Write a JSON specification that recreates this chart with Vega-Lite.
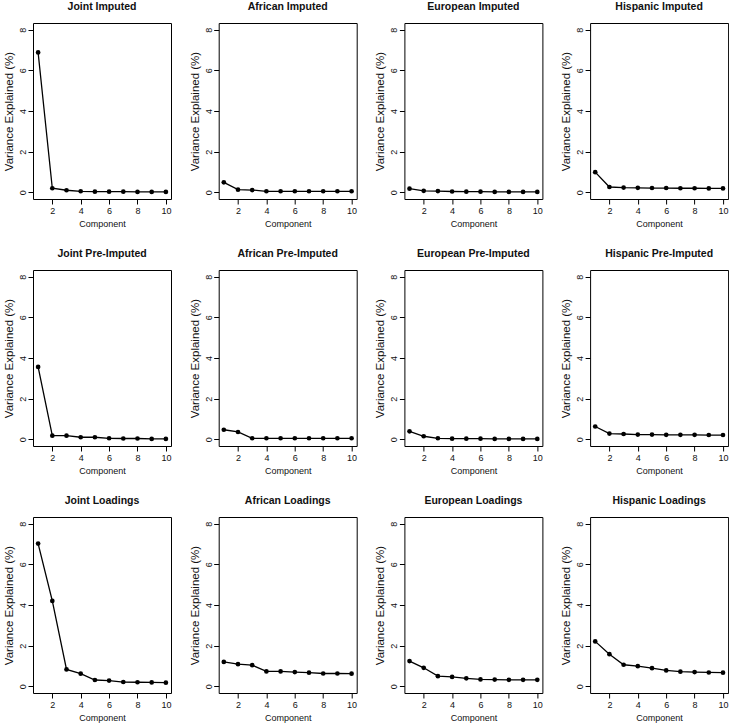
{
  "$schema": "https://vega.github.io/schema/vega-lite/v6.json",
  "padding": {"left": 3, "top": 1, "right": 0, "bottom": 0},
  "background": "white",
  "config": {
    "font": "Liberation Sans",
    "view": {"stroke": "black", "strokeWidth": 1},
    "axis": {"grid": false, "domain": false, "tickColor": "black", "tickSize": 5, "labelColor": "#111", "titleColor": "#111", "labelFontSize": 9, "titleFontSize": 9, "titleFontWeight": "normal"},
    "header": {"labelFontSize": 10.5, "labelFontWeight": "bold", "labelColor": "#111", "labelPadding": 11}
  },
  "data": {"values": [
    {"p":"Joint Imputed","c":1,"v":6.88},{"p":"Joint Imputed","c":2,"v":0.2},{"p":"Joint Imputed","c":3,"v":0.1},{"p":"Joint Imputed","c":4,"v":0.05},{"p":"Joint Imputed","c":5,"v":0.03},{"p":"Joint Imputed","c":6,"v":0.03},{"p":"Joint Imputed","c":7,"v":0.03},{"p":"Joint Imputed","c":8,"v":0.02},{"p":"Joint Imputed","c":9,"v":0.02},{"p":"Joint Imputed","c":10,"v":0.02},
    {"p":"African Imputed","c":1,"v":0.49},{"p":"African Imputed","c":2,"v":0.13},{"p":"African Imputed","c":3,"v":0.11},{"p":"African Imputed","c":4,"v":0.05},{"p":"African Imputed","c":5,"v":0.05},{"p":"African Imputed","c":6,"v":0.05},{"p":"African Imputed","c":7,"v":0.05},{"p":"African Imputed","c":8,"v":0.05},{"p":"African Imputed","c":9,"v":0.05},{"p":"African Imputed","c":10,"v":0.05},
    {"p":"European Imputed","c":1,"v":0.18},{"p":"European Imputed","c":2,"v":0.07},{"p":"European Imputed","c":3,"v":0.06},{"p":"European Imputed","c":4,"v":0.04},{"p":"European Imputed","c":5,"v":0.03},{"p":"European Imputed","c":6,"v":0.03},{"p":"European Imputed","c":7,"v":0.02},{"p":"European Imputed","c":8,"v":0.02},{"p":"European Imputed","c":9,"v":0.02},{"p":"European Imputed","c":10,"v":0.02},
    {"p":"Hispanic Imputed","c":1,"v":0.99},{"p":"Hispanic Imputed","c":2,"v":0.26},{"p":"Hispanic Imputed","c":3,"v":0.23},{"p":"Hispanic Imputed","c":4,"v":0.22},{"p":"Hispanic Imputed","c":5,"v":0.21},{"p":"Hispanic Imputed","c":6,"v":0.21},{"p":"Hispanic Imputed","c":7,"v":0.2},{"p":"Hispanic Imputed","c":8,"v":0.2},{"p":"Hispanic Imputed","c":9,"v":0.19},{"p":"Hispanic Imputed","c":10,"v":0.19},
    {"p":"Joint Pre-Imputed","c":1,"v":3.56},{"p":"Joint Pre-Imputed","c":2,"v":0.18},{"p":"Joint Pre-Imputed","c":3,"v":0.18},{"p":"Joint Pre-Imputed","c":4,"v":0.1},{"p":"Joint Pre-Imputed","c":5,"v":0.1},{"p":"Joint Pre-Imputed","c":6,"v":0.05},{"p":"Joint Pre-Imputed","c":7,"v":0.04},{"p":"Joint Pre-Imputed","c":8,"v":0.04},{"p":"Joint Pre-Imputed","c":9,"v":0.02},{"p":"Joint Pre-Imputed","c":10,"v":0.02},
    {"p":"African Pre-Imputed","c":1,"v":0.47},{"p":"African Pre-Imputed","c":2,"v":0.36},{"p":"African Pre-Imputed","c":3,"v":0.05},{"p":"African Pre-Imputed","c":4,"v":0.05},{"p":"African Pre-Imputed","c":5,"v":0.05},{"p":"African Pre-Imputed","c":6,"v":0.05},{"p":"African Pre-Imputed","c":7,"v":0.05},{"p":"African Pre-Imputed","c":8,"v":0.05},{"p":"African Pre-Imputed","c":9,"v":0.05},{"p":"African Pre-Imputed","c":10,"v":0.05},
    {"p":"European Pre-Imputed","c":1,"v":0.39},{"p":"European Pre-Imputed","c":2,"v":0.15},{"p":"European Pre-Imputed","c":3,"v":0.05},{"p":"European Pre-Imputed","c":4,"v":0.03},{"p":"European Pre-Imputed","c":5,"v":0.03},{"p":"European Pre-Imputed","c":6,"v":0.03},{"p":"European Pre-Imputed","c":7,"v":0.02},{"p":"European Pre-Imputed","c":8,"v":0.02},{"p":"European Pre-Imputed","c":9,"v":0.02},{"p":"European Pre-Imputed","c":10,"v":0.02},
    {"p":"Hispanic Pre-Imputed","c":1,"v":0.63},{"p":"Hispanic Pre-Imputed","c":2,"v":0.28},{"p":"Hispanic Pre-Imputed","c":3,"v":0.26},{"p":"Hispanic Pre-Imputed","c":4,"v":0.23},{"p":"Hispanic Pre-Imputed","c":5,"v":0.23},{"p":"Hispanic Pre-Imputed","c":6,"v":0.22},{"p":"Hispanic Pre-Imputed","c":7,"v":0.22},{"p":"Hispanic Pre-Imputed","c":8,"v":0.22},{"p":"Hispanic Pre-Imputed","c":9,"v":0.21},{"p":"Hispanic Pre-Imputed","c":10,"v":0.21},
    {"p":"Joint Loadings","c":1,"v":7.02},{"p":"Joint Loadings","c":2,"v":4.2},{"p":"Joint Loadings","c":3,"v":0.83},{"p":"Joint Loadings","c":4,"v":0.62},{"p":"Joint Loadings","c":5,"v":0.31},{"p":"Joint Loadings","c":6,"v":0.28},{"p":"Joint Loadings","c":7,"v":0.21},{"p":"Joint Loadings","c":8,"v":0.2},{"p":"Joint Loadings","c":9,"v":0.19},{"p":"Joint Loadings","c":10,"v":0.18},
    {"p":"African Loadings","c":1,"v":1.2},{"p":"African Loadings","c":2,"v":1.09},{"p":"African Loadings","c":3,"v":1.04},{"p":"African Loadings","c":4,"v":0.73},{"p":"African Loadings","c":5,"v":0.73},{"p":"African Loadings","c":6,"v":0.7},{"p":"African Loadings","c":7,"v":0.67},{"p":"African Loadings","c":8,"v":0.63},{"p":"African Loadings","c":9,"v":0.63},{"p":"African Loadings","c":10,"v":0.62},
    {"p":"European Loadings","c":1,"v":1.24},{"p":"European Loadings","c":2,"v":0.91},{"p":"European Loadings","c":3,"v":0.5},{"p":"European Loadings","c":4,"v":0.46},{"p":"European Loadings","c":5,"v":0.39},{"p":"European Loadings","c":6,"v":0.34},{"p":"European Loadings","c":7,"v":0.33},{"p":"European Loadings","c":8,"v":0.32},{"p":"European Loadings","c":9,"v":0.32},{"p":"European Loadings","c":10,"v":0.32},
    {"p":"Hispanic Loadings","c":1,"v":2.21},{"p":"Hispanic Loadings","c":2,"v":1.58},{"p":"Hispanic Loadings","c":3,"v":1.06},{"p":"Hispanic Loadings","c":4,"v":0.99},{"p":"Hispanic Loadings","c":5,"v":0.89},{"p":"Hispanic Loadings","c":6,"v":0.78},{"p":"Hispanic Loadings","c":7,"v":0.72},{"p":"Hispanic Loadings","c":8,"v":0.7},{"p":"Hispanic Loadings","c":9,"v":0.68},{"p":"Hispanic Loadings","c":10,"v":0.67}
  ]},
  "facet": {"field": "p", "type": "nominal", "title": null, "sort": ["Joint Imputed","African Imputed","European Imputed","Hispanic Imputed","Joint Pre-Imputed","African Pre-Imputed","European Pre-Imputed","Hispanic Pre-Imputed","Joint Loadings","African Loadings","European Loadings","Hispanic Loadings"]},
  "columns": 4,
  "bounds": "flush",
  "spacing": {"column": 47.7, "row": 71},
  "resolve": {"axis": {"x": "independent", "y": "independent"}},
  "spec": {
    "width": 138,
    "height": 176,
    "encoding": {
      "x": {"field": "c", "type": "quantitative", "title": "Component", "scale": {"domain": [0.64, 10.36], "nice": false, "zero": false}, "axis": {"values": [2,4,6,8,10], "labelPadding": 2, "titlePadding": 4}},
      "y": {"field": "v", "type": "quantitative", "title": "Variance Explained (%)", "scale": {"domain": [-0.33, 8.33], "nice": false, "zero": false}, "axis": {"values": [0,2,4,6,8], "labelAngle": -90, "labelAlign": "center", "labelBaseline": "bottom", "labelPadding": 0.5, "titlePadding": 4, "titleFontSize": 11.5}}
    },
    "layer": [
      {"mark": {"type": "line", "color": "black", "strokeWidth": 1.3}},
      {"mark": {"type": "point", "filled": true, "color": "black", "size": 22, "opacity": 1}}
    ]
  }
}
